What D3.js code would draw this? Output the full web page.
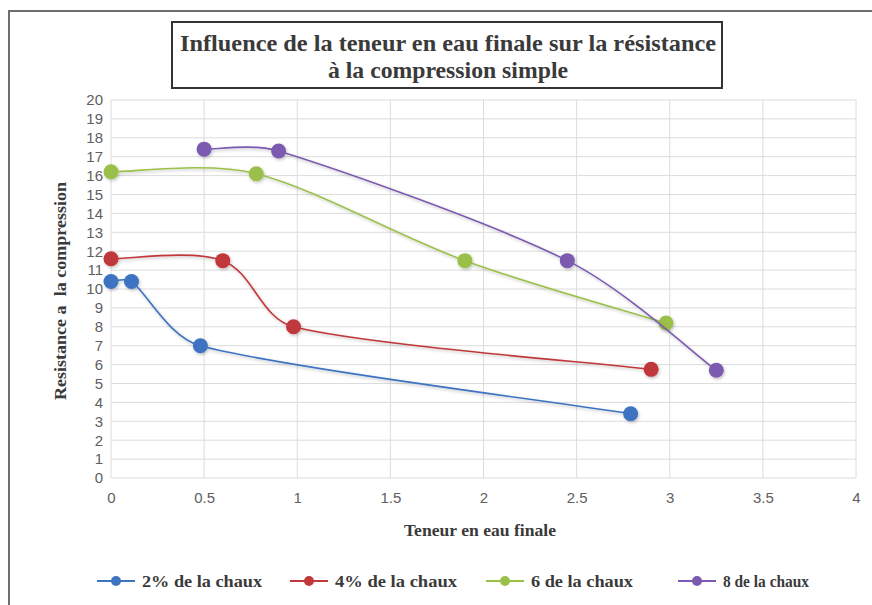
<!DOCTYPE html>
<html>
<head>
<meta charset="utf-8">
<script src="https://cdn.jsdelivr.net/npm/d3@7"></script>
<style>
  body { margin: 0; background: #fff; }
  svg { display: block; }
</style>
</head>
<body>
<div id="chart"></div>
<script>
// Data
const seriesNames = ["2% de la chaux", "4% de la chaux", "6 de la chaux", "8 de la chaux"];
const seriesColors = ["#3d73c0", "#c0393b", "#9bc04a", "#7b5aaf"];
const x2 = [0, 0.11, 0.48, 2.79];
const y2 = [10.4, 10.4, 7.0, 3.4];
const x4 = [0, 0.6, 0.98, 2.9];
const y4 = [11.6, 11.5, 8.0, 5.75];
const x6 = [0, 0.78, 1.9, 2.98];
const y6 = [16.2, 16.1, 11.5, 8.2];
const x8 = [0.5, 0.9, 2.45, 3.25];
const y8 = [17.4, 17.3, 11.5, 5.7];
const xTicks = [0, 0.5, 1, 1.5, 2, 2.5, 3, 3.5, 4];
const yTicks = d3.range(0, 21);

const W = 872, H = 605;
const plot = {left: 111, right: 856, top: 100, bottom: 478};

const svg = d3.select("#chart").append("svg")
    .attr("width", W)
    .attr("height", H);

// soft shadow like the original
const defs = svg.append("defs");
const f = defs.append("filter").attr("id", "shadow")
    .attr("x", "-50%").attr("y", "-50%").attr("width", "200%").attr("height", "200%");
f.append("feDropShadow").attr("dx", 1).attr("dy", 1.5).attr("stdDeviation", 1.5)
    .attr("flood-color", "#000").attr("flood-opacity", 0.25);

// outer chart border (only left and top visible)
svg.append("rect")
    .attr("x", 9).attr("y", 11)
    .attr("width", W + 20).attr("height", H + 20)
    .attr("fill", "none")
    .attr("stroke", "#6e6e6e")
    .attr("stroke-width", 2);

const x = d3.scaleLinear().domain([0, 4]).range([plot.left, plot.right]);
const y = d3.scaleLinear().domain([0, 20]).range([plot.bottom, plot.top]);

// gridlines
svg.append("g")
    .selectAll("line")
    .data(yTicks)
    .join("line")
    .attr("x1", plot.left).attr("x2", plot.right)
    .attr("y1", d => y(d)).attr("y2", d => y(d))
    .attr("stroke", "#dcdcdc").attr("stroke-width", 1);

svg.append("g")
    .selectAll("line")
    .data(xTicks)
    .join("line")
    .attr("x1", d => x(d)).attr("x2", d => x(d))
    .attr("y1", plot.top).attr("y2", plot.bottom)
    .attr("stroke", "#dcdcdc").attr("stroke-width", 1);

// axes (labels only)
const tickFont = "'Liberation Sans Narrow', 'Arial Narrow', sans-serif";
const yAxis = svg.append("g")
    .attr("transform", `translate(${plot.left - 4},0)`)
    .call(d3.axisLeft(y).tickValues(yTicks).tickSize(0).tickPadding(4));
const xAxis = svg.append("g")
    .attr("transform", `translate(0,${plot.bottom + 8})`)
    .call(d3.axisBottom(x).tickValues(xTicks).tickSize(0).tickPadding(6)
        .tickFormat(d3.format("")));
[xAxis, yAxis].forEach(a => {
    a.select(".domain").remove();
    a.selectAll("text")
        .style("font-family", tickFont)
        .style("font-size", "15px")
        .attr("fill", "#606060");
});

// series
const series = [
    {xs: x2, ys: y2},
    {xs: x4, ys: y4},
    {xs: x6, ys: y6},
    {xs: x8, ys: y8}
].map((s, i) => ({
    name: seriesNames[i],
    color: seriesColors[i],
    pts: s.xs.map((v, j) => ({x: v, y: s.ys[j]}))
}));

// Excel-like smoothed line: catmull-rom arms (1/6 of the chord),
// clamped so short segments don't loop
function smoothPath(data) {
    const p = data.map(d => [x(d.x), y(d.y)]);
    const n = p.length;
    const path = d3.path();
    path.moveTo(p[0][0], p[0][1]);
    const arm = i => {
        const a = p[Math.max(i - 1, 0)], b = p[Math.min(i + 1, n - 1)];
        return [(b[0] - a[0]) / 6, (b[1] - a[1]) / 6];
    };
    const clamp = (v, max) => {
        const l = Math.hypot(v[0], v[1]);
        return l > max ? [v[0] * max / l, v[1] * max / l] : v;
    };
    for (let i = 0; i < n - 1; i++) {
        const seg = Math.hypot(p[i + 1][0] - p[i][0], p[i + 1][1] - p[i][1]);
        const a1 = clamp(arm(i), seg * 0.35);
        const a2 = clamp(arm(i + 1), seg * 0.35);
        path.bezierCurveTo(p[i][0] + a1[0], p[i][1] + a1[1],
            p[i + 1][0] - a2[0], p[i + 1][1] - a2[1],
            p[i + 1][0], p[i + 1][1]);
    }
    return path.toString();
}

const sg = svg.append("g").selectAll("g")
    .data(series)
    .join("g")
    .attr("filter", "url(#shadow)");

sg.append("path")
    .attr("d", d => smoothPath(d.pts))
    .attr("fill", "none")
    .attr("stroke", d => d.color)
    .attr("stroke-width", 1.6);

sg.selectAll("circle")
    .data(d => d.pts.map(p => ({...p, color: d.color})))
    .join("circle")
    .attr("cx", d => x(d.x))
    .attr("cy", d => y(d.y))
    .attr("r", 7.5)
    .attr("fill", d => d.color);

// title box
svg.append("rect")
    .attr("x", 172).attr("y", 22)
    .attr("width", 550).attr("height", 66)
    .attr("fill", "#fff")
    .attr("stroke", "#333")
    .attr("stroke-width", 2);

const serif = "'Liberation Serif', 'Times New Roman', serif";
const titleLines = [
    {t: "Influence de la teneur en eau finale sur la résistance", y: 51, len: 536},
    {t: "à la compression simple", y: 78, len: 240}
];
svg.append("g").selectAll("text")
    .data(titleLines)
    .join("text")
    .attr("x", 448).attr("y", d => d.y)
    .attr("text-anchor", "middle")
    .attr("textLength", d => d.len)
    .attr("lengthAdjust", "spacingAndGlyphs")
    .style("font-family", serif)
    .style("font-weight", "bold")
    .style("font-size", "23px")
    .attr("fill", "#3a3a3a")
    .text(d => d.t);

// axis titles
svg.append("text")
    .attr("x", 480)
    .attr("y", 536)
    .attr("text-anchor", "middle")
    .attr("textLength", 152)
    .attr("lengthAdjust", "spacingAndGlyphs")
    .style("font-family", serif)
    .style("font-weight", "bold")
    .style("font-size", "16px")
    .attr("fill", "#3a3a3a")
    .text("Teneur en eau finale");

svg.append("text")
    .attr("transform", `translate(66,291) rotate(-90)`)
    .attr("text-anchor", "middle")
    .attr("textLength", 218)
    .attr("lengthAdjust", "spacingAndGlyphs")
    .style("white-space", "pre")
    .style("font-family", serif)
    .style("font-weight", "bold")
    .style("font-size", "16px")
    .attr("fill", "#3a3a3a")
    .text("Resistance a  la compression");

// legend
const legendX = [97, 290, 486, 678];
const legendLen = [120, 122, 102, 86];
const lg = svg.append("g").selectAll("g")
    .data(series)
    .join("g")
    .attr("transform", (d, i) => `translate(${legendX[i]},581)`);
lg.append("line")
    .attr("x1", 0).attr("x2", 38)
    .attr("stroke", d => d.color)
    .attr("stroke-width", 2);
lg.append("circle")
    .attr("cx", 19).attr("r", 5)
    .attr("fill", d => d.color);
lg.append("text")
    .attr("x", 45).attr("dy", "0.35em")
    .attr("textLength", (d, i) => legendLen[i])
    .attr("lengthAdjust", "spacingAndGlyphs")
    .style("font-family", serif)
    .style("font-weight", "bold")
    .style("font-size", "16px")
    .attr("fill", "#3a3a3a")
    .text(d => d.name);
</script>
</body>
</html>
